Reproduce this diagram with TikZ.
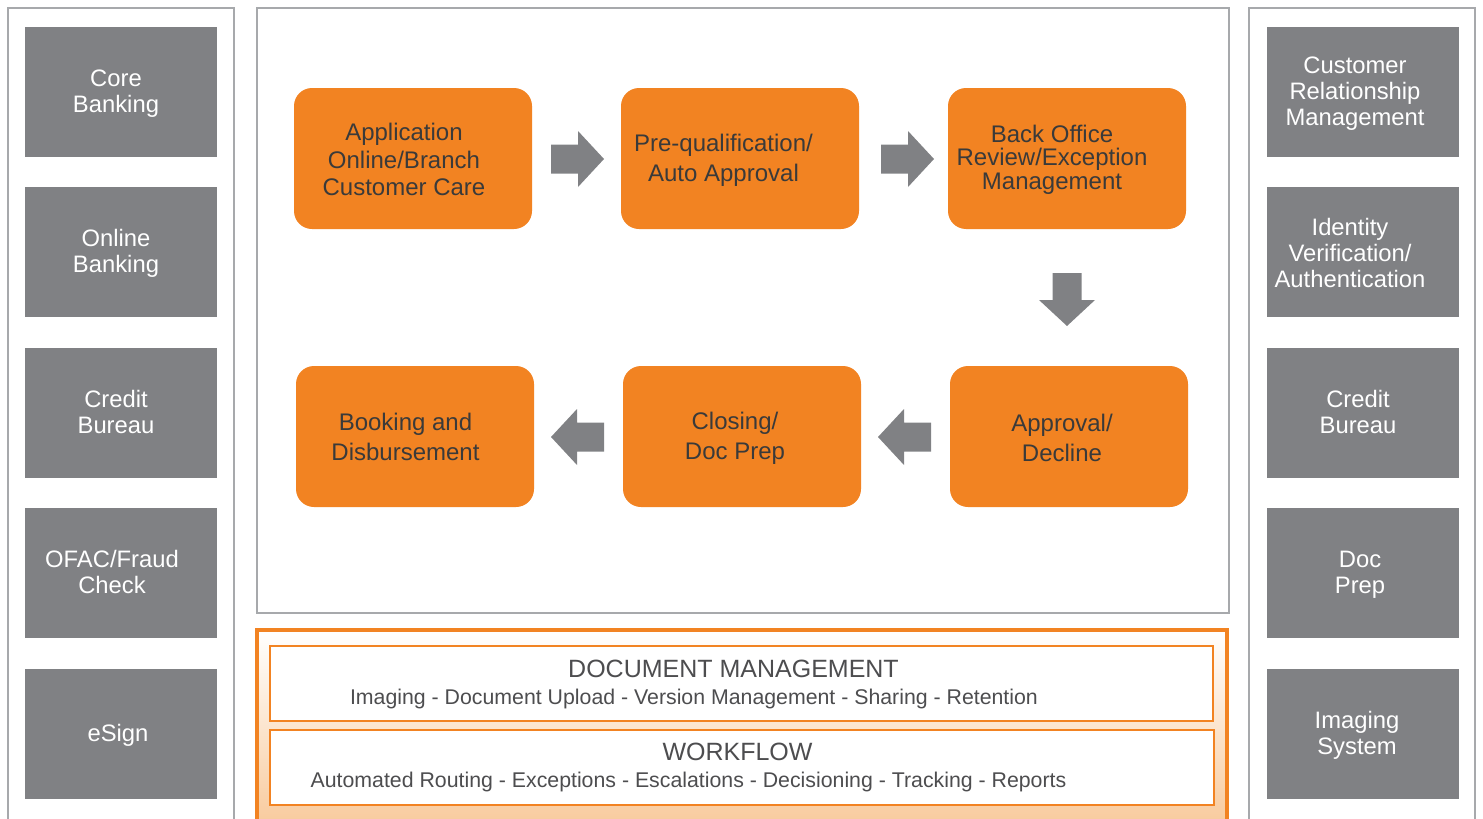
\documentclass[tikz,border=0pt]{standalone}
\usepackage{fontspec}
\setmainfont{Liberation Sans}
\definecolor{panelgray}{HTML}{A7A9AC}
\definecolor{boxgray}{HTML}{808184}
\definecolor{orng}{HTML}{F28322}
\definecolor{orngtxt}{HTML}{3A3A3A}
\definecolor{darktxt}{HTML}{4D4D4F}
\definecolor{lightorng}{HTML}{F8C99A}
\tikzset{
  panel/.style={draw=panelgray, line width=2.2pt},
  sysbox/.style={fill=boxgray, minimum width=192pt, minimum height=130pt, inner sep=0pt},
  systext/.style={text=white, align=center, inner sep=0pt, font=\fontsize{23.8}{26}\selectfont},
  stepbox/.style={fill=orng, rounded corners=18pt, minimum width=238pt, minimum height=141pt, inner sep=0pt},
  steptext/.style={text=orngtxt, align=center, inner sep=0pt, font=\fontsize{24}{27.5}\selectfont},
  innerbox/.style={draw=orng, line width=1.5pt, fill=white},
  titletext/.style={text=darktxt, inner sep=0pt, font=\fontsize{25}{28}\selectfont},
  subtext/.style={text=darktxt, inner sep=0pt, font=\fontsize{21.3}{24}\selectfont},
  blockarrow/.pic={\fill[boxgray] (0,-14.5) -- (27,-14.5) -- (27,-28) -- (53,0) -- (27,28) -- (27,14.5) -- (0,14.5) -- cycle;}
}
\begin{document}
\begin{tikzpicture}[x=1pt,y=-1pt]
\useasboundingbox (0,0) rectangle (1483,819);
% panels
\draw[panel] (8,830) -- (8,8) -- (234,8) -- (234,830);
\draw[panel] (1249,830) -- (1249,8) -- (1475,8) -- (1475,830);
\draw[panel] (257,8) rectangle (1229,613);
% left systems
\node[sysbox] (core) at (121,92) {};
\node[sysbox] (online) at (121,252) {};
\node[sysbox] (creditl) at (121,413) {};
\node[sysbox] (ofac) at (121,573) {};
\node[sysbox] (esign) at (121,734) {};
\node[systext] (coret) at (116,94) {Core\\Banking};
\node[systext] (onlinet) at (116,253) {Online\\Banking};
\node[systext] (creditlt) at (116,412) {Credit\\Bureau};
\node[systext] (ofact) at (112,572) {OFAC/Fraud\\Check};
\node[systext] (esignt) at (118,735) {eSign};
% right systems
\node[sysbox] (crm) at (1363,92) {};
\node[sysbox] (idv) at (1363,252) {};
\node[sysbox] (creditr) at (1363,413) {};
\node[sysbox] (docprep) at (1363,573) {};
\node[sysbox] (imaging) at (1363,734) {};
\node[systext] (crmt) at (1355,94) {Customer\\Relationship\\Management};
\node[systext] (idvt) at (1350,253) {Identity\\Verification/\\Authentication};
\node[systext] (creditrt) at (1358,412) {Credit\\Bureau};
\node[systext] (docprept) at (1360,575) {Doc\\Prep};
\node[systext] (imagingt) at (1357,735) {Imaging\\System};
% steps
\node[stepbox] (app) at (413,158.5) {};
\node[stepbox] (preq) at (740,158.5) {};
\node[stepbox] (back) at (1067,158.5) {};
\node[stepbox] (book) at (415,436.5) {};
\node[stepbox] (close) at (742,436.5) {};
\node[stepbox] (appr) at (1069,436.5) {};
\node[steptext] (appt) at (404,159.5) {Application\\Online/Branch\\Customer Care};
\node[steptext, font=\fontsize{24}{30}\selectfont] (preqt) at (723.5,160) {Pre-qualification/\\Auto Approval};
\node[steptext, font=\fontsize{24}{23.5}\selectfont] (backt) at (1052,159.5) {Back Office\\Review/Exception\\Management};
\node[steptext, font=\fontsize{24}{30}\selectfont] (bookt) at (405.5,437) {Booking and\\Disbursement};
\node[steptext, font=\fontsize{24}{30}\selectfont] (closet) at (735,438) {Closing/\\Doc Prep};
\node[steptext, font=\fontsize{24}{30}\selectfont] (apprt) at (1062,438) {Approval/\\Decline};
% block arrows
\pic at (551,159) {blockarrow};
\pic at (881,159) {blockarrow};
\pic[rotate=-90] at (1067,273) {blockarrow};
\pic[rotate=180] at (931,437) {blockarrow};
\pic[rotate=180] at (604,437) {blockarrow};
% bottom
\shade[top color=white, bottom color=lightorng] (257,630) rectangle (1227,830);
\draw[orng, line width=4pt] (257,830) -- (257,630) -- (1227,630) -- (1227,830);
\draw[innerbox] (270,646) rectangle (1213,721);
\draw[innerbox] (270,730) rectangle (1214,805);
\node[titletext] (dmt) at (733.5,669) {DOCUMENT MANAGEMENT};
\node[subtext] (dms) at (694,699) {Imaging - Document Upload - Version Management - Sharing - Retention};
\node[titletext] (wft) at (737.5,752) {WORKFLOW};
\node[subtext] (wfs) at (688.5,782) {Automated Routing - Exceptions - Escalations - Decisioning - Tracking - Reports};
\end{tikzpicture}
\end{document}
